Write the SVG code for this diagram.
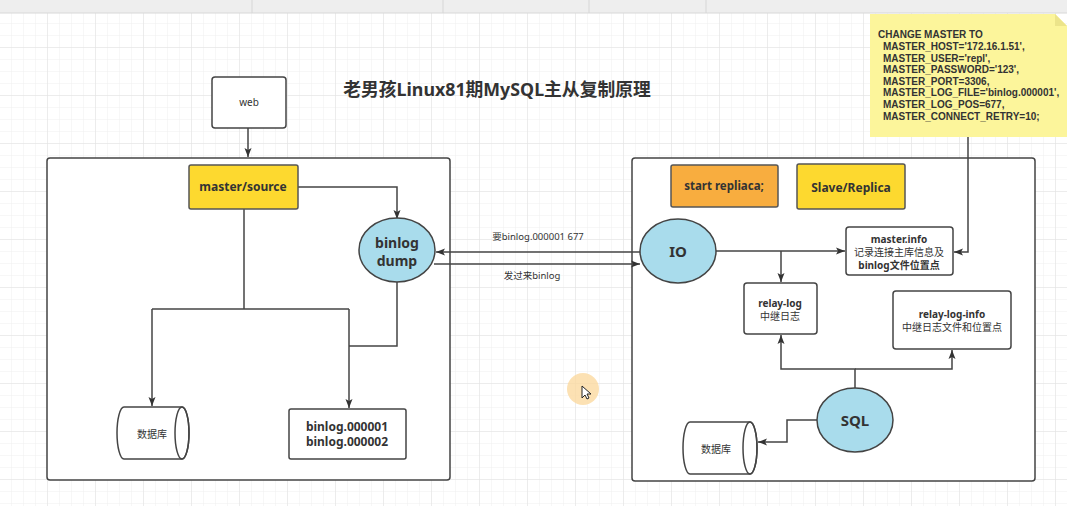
<svg xmlns="http://www.w3.org/2000/svg" width="1067" height="506" viewBox="0 0 1067 506">
<style>
text{font-family:"Noto Sans","Noto Sans CJK SC",sans-serif;fill:#333;text-anchor:middle}
.b{font-weight:bold}
.box{fill:#fff;stroke:#444;stroke-width:1.5}
.cont{fill:#fff;stroke:#444;stroke-width:1.5}
.ell{fill:#a9dcec;stroke:#444;stroke-width:1.5}
.yel{fill:#fdd92f;stroke:#555;stroke-width:1.5}
.org{fill:#f8ad3f;stroke:#555;stroke-width:1.5}
.ln{fill:none;stroke:#444;stroke-width:1.5}
.nt{font-family:"Liberation Sans",Arial,sans-serif;font-size:10px;text-anchor:start;fill:#333;font-weight:bold}
</style>
<defs>
<pattern id="minor" width="12" height="12" patternUnits="userSpaceOnUse"><path d="M12 0V12H0" fill="none" stroke="#efefef" stroke-width="1"/></pattern>
<pattern id="major" width="48" height="48" patternUnits="userSpaceOnUse"><rect width="48" height="48" fill="url(#minor)"/><path d="M48 0V48H0" fill="none" stroke="#e2e2e2" stroke-width="1"/></pattern>
<marker id="ah" markerWidth="10" markerHeight="10" refX="9" refY="5" orient="auto" markerUnits="userSpaceOnUse"><path d="M0 1.5L9 5L0 8.5L2 5Z" fill="#333"/></marker>
</defs>
<rect width="1067" height="506" fill="#fff"/>
<rect width="1067" height="506" fill="url(#major)"/>
<rect width="1067" height="13" fill="#eeeeee"/>
<line x1="0" y1="13" x2="1067" y2="13" stroke="#d8d8d8"/>
<g stroke="#d6d6d6"><line x1="252" y1="0" x2="252" y2="13"/><line x1="443" y1="0" x2="443" y2="13"/><line x1="589" y1="0" x2="589" y2="13"/><line x1="706" y1="0" x2="706" y2="13"/></g>

<text class="b" x="497" y="96" font-size="17.8" fill="#333">老男孩Linux81期MySQL主从复制原理</text>

<g id="master-container"><rect class="cont" x="47" y="158" width="403" height="322" rx="3"/></g>
<g id="slave-container"><rect class="cont" x="632" y="158" width="403" height="323" rx="3"/></g>

<g id="connectors">
<path class="ln" d="M248 128V157" marker-end="url(#ah)"/>
<path class="ln" d="M298 187H397V219" marker-end="url(#ah)"/>
<path class="ln" d="M244 209V309"/>
<path class="ln" d="M152 309H349"/>
<path class="ln" d="M152 309V406" marker-end="url(#ah)"/>
<path class="ln" d="M349 309V408" marker-end="url(#ah)"/>
<path class="ln" d="M397 282V346H349"/>
<path class="ln" d="M641 252H436" marker-end="url(#ah)"/>
<path class="ln" d="M434 264H640" marker-end="url(#ah)"/>
<path class="ln" d="M716 251H845" marker-end="url(#ah)"/>
<path class="ln" d="M781 251V282" marker-end="url(#ah)"/>
<path class="ln" d="M968 137V252H954" marker-end="url(#ah)"/>
<path class="ln" d="M855 388V369H781V335" marker-end="url(#ah)"/>
<path class="ln" d="M855 369H952V350" marker-end="url(#ah)"/>
<path class="ln" d="M817 420H787V442H758" marker-end="url(#ah)"/>
</g>
<text x="538" y="240" font-size="9.5">要binlog.000001 677</text>
<text x="532" y="279" font-size="9.5">发过来binlog</text>

<g id="web"><rect class="box" x="212" y="77" width="74" height="51" rx="3"/><text x="249" y="106" font-size="10">web</text></g>
<g id="master-source"><rect class="yel" x="189" y="165" width="109" height="44" rx="2"/><text class="b" x="243" y="191" font-size="12">master/source</text></g>
<g id="binlog-dump"><ellipse class="ell" cx="397" cy="250" rx="38" ry="32"/><text class="b" x="397" y="248" font-size="14">binlog</text><text class="b" x="397" y="266" font-size="14">dump</text></g>
<g id="db-left"><path class="box" d="M124 407H182A7 26 0 0 1 182 459H124A7 26 0 0 1 124 407Z"/><ellipse cx="182" cy="433" rx="7" ry="26" fill="none" stroke="#444" stroke-width="1.5"/><text x="152" y="438" font-size="10">数据库</text></g>
<g id="binlog-files"><rect class="box" x="289" y="409" width="117" height="50" rx="2"/><text class="b" x="347" y="431" font-size="12">binlog.000001</text><text class="b" x="347" y="446" font-size="12">binlog.000002</text></g>

<g id="start-replica"><rect class="org" x="671" y="165" width="107" height="42" rx="2"/><text class="b" x="724" y="190" font-size="11.5">start repliaca;</text></g>
<g id="slave-replica"><rect class="yel" x="797" y="164" width="108" height="45" rx="2"/><text class="b" x="851" y="192" font-size="12">Slave/Replica</text></g>
<g id="io"><ellipse class="ell" cx="678" cy="251" rx="38" ry="32"/><text class="b" x="678" y="257" font-size="15">IO</text></g>
<g id="master-info"><rect class="box" x="846" y="227" width="107" height="48" rx="3"/><text class="b" x="899" y="243" font-size="10">master.info</text><text x="899" y="256" font-size="10">记录连接主库信息及</text><text class="b" x="899" y="269" font-size="10">binlog文件位置点</text></g>
<g id="relay-log"><rect class="box" x="744" y="283" width="73" height="51" rx="3"/><text class="b" x="780" y="307" font-size="10">relay-log</text><text x="780" y="320" font-size="10">中继日志</text></g>
<g id="relay-log-info"><rect class="box" x="893" y="291" width="118" height="58" rx="3"/><text class="b" x="952" y="318" font-size="10">relay-log-info</text><text x="952" y="331" font-size="10">中继日志文件和位置点</text></g>
<g id="sql"><ellipse class="ell" cx="855" cy="420" rx="38" ry="32"/><text class="b" x="855" y="426" font-size="15">SQL</text></g>
<g id="db-right"><path class="box" d="M690 422H750A7 26 0 0 1 750 474H690A7 26 0 0 1 690 422Z"/><ellipse cx="750" cy="448" rx="7" ry="26" fill="none" stroke="#444" stroke-width="1.5"/><text x="716" y="453" font-size="10">数据库</text></g>

<g id="note">
<path d="M870 14H1055L1067 26V137H870Z" fill="#fcf59b"/>
<path d="M1055 14V26H1067Z" fill="#ece48a"/>
<text class="nt" x="878" y="38">CHANGE MASTER TO</text>
<text class="nt" x="883" y="50">MASTER_HOST='172.16.1.51',</text>
<text class="nt" x="883" y="61.6">MASTER_USER='repl',</text>
<text class="nt" x="883" y="73.2">MASTER_PASSWORD='123',</text>
<text class="nt" x="883" y="84.8">MASTER_PORT=3306,</text>
<text class="nt" x="883" y="96.4">MASTER_LOG_FILE='binlog.000001',</text>
<text class="nt" x="883" y="108">MASTER_LOG_POS=677,</text>
<text class="nt" x="883" y="119.6">MASTER_CONNECT_RETRY=10;</text>
</g>

<g id="cursor"><circle cx="583" cy="389" r="16" fill="#fbd9a0" opacity="0.8"/><path d="M582 386V398L585 395L587 399L589 398L587 394L591 394Z" fill="#fff" stroke="#222" stroke-width="1"/></g>
</svg>
